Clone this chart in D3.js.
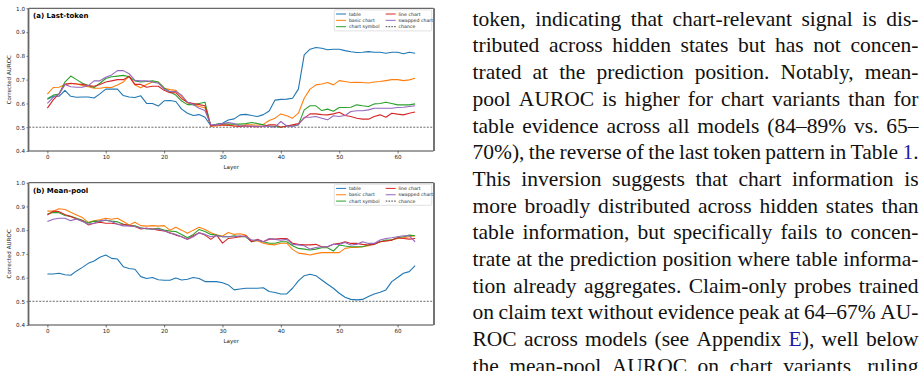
<!DOCTYPE html>
<html>
<head>
<meta charset="utf-8">
<script src="https://cdn.jsdelivr.net/npm/d3@7/dist/d3.min.js"></script>
<style>
	body { margin: 0; background: #fff; }
	svg { display: block; }
</style>
</head>
<body>
<svg id="page" width="919" height="371"></svg>
<script>

var layers = d3.range(64);

var seriesNames = ['table', 'basic chart', 'chart symbol', 'line chart', 'swapped chart'];
var seriesColors = ['#1f77b4', '#ff7f0e', '#2ca02c', '#d62728', '#9467bd'];

var xTicks = [0, 10, 20, 30, 40, 50, 60];
var yTicks = [0.4, 0.5, 0.6, 0.7, 0.8, 0.9, 1.0];
var chanceLevel = 0.5;

// (a) last-token AUROC per layer
var lastTable = [0.618, 0.63, 0.63, 0.655, 0.63, 0.626, 0.627, 0.627, 0.623, 0.64,
	0.66, 0.66, 0.66, 0.633, 0.627, 0.625, 0.632, 0.60, 0.60, 0.589,
	0.611, 0.612, 0.608, 0.576, 0.559, 0.549, 0.553, 0.542, 0.506, 0.512,
	0.517, 0.53, 0.535, 0.552, 0.554, 0.549, 0.545, 0.553, 0.568, 0.614,
	0.617, 0.618, 0.622, 0.66, 0.804, 0.828, 0.835, 0.832, 0.826, 0.828,
	0.828, 0.822, 0.817, 0.814, 0.815, 0.818, 0.815, 0.815, 0.811, 0.815,
	0.815, 0.809, 0.815, 0.811];
var lastBasic = [0.639, 0.667, 0.668, 0.68, 0.684, 0.683, 0.675, 0.67, 0.664, 0.664,
	0.668, 0.667, 0.678, 0.69, 0.716, 0.678, 0.666, 0.68, 0.69, 0.69,
	0.664, 0.658, 0.655, 0.63, 0.602, 0.595, 0.587, 0.582, 0.504, 0.505,
	0.508, 0.51, 0.505, 0.505, 0.51, 0.51, 0.508, 0.512, 0.528, 0.538,
	0.556, 0.548, 0.538, 0.559, 0.622, 0.66, 0.678, 0.682, 0.688, 0.678,
	0.696, 0.692, 0.688, 0.689, 0.688, 0.686, 0.69, 0.692, 0.696, 0.70,
	0.70, 0.696, 0.699, 0.706];
var lastSymbol = [0.62, 0.635, 0.64, 0.69, 0.715, 0.70, 0.685, 0.675, 0.667, 0.685,
	0.705, 0.712, 0.715, 0.718, 0.712, 0.695, 0.69, 0.692, 0.695, 0.69,
	0.665, 0.648, 0.635, 0.61, 0.595, 0.595, 0.60, 0.605, 0.505, 0.512,
	0.515, 0.513, 0.513, 0.513, 0.515, 0.52, 0.515, 0.51, 0.505, 0.503,
	0.50, 0.505, 0.505, 0.51, 0.573, 0.59, 0.59, 0.57, 0.576, 0.567,
	0.583, 0.583, 0.584, 0.594, 0.59, 0.587, 0.598, 0.60, 0.605, 0.60,
	0.594, 0.594, 0.594, 0.598];
var lastLine = [0.58, 0.615, 0.64, 0.68, 0.685, 0.682, 0.68, 0.675, 0.672, 0.68,
	0.69, 0.695, 0.70, 0.70, 0.713, 0.68, 0.68, 0.668, 0.672, 0.672,
	0.655, 0.645, 0.645, 0.62, 0.605, 0.60, 0.595, 0.59, 0.505, 0.51,
	0.51, 0.508, 0.505, 0.503, 0.505, 0.503, 0.502, 0.503, 0.51, 0.51,
	0.50, 0.505, 0.51, 0.515, 0.538, 0.556, 0.556, 0.553, 0.552, 0.556,
	0.563, 0.549, 0.545, 0.538, 0.534, 0.534, 0.545, 0.552, 0.542, 0.559,
	0.555, 0.552, 0.559, 0.564];
var lastSwapped = [0.60, 0.625, 0.64, 0.68, 0.67, 0.668, 0.668, 0.675, 0.695, 0.695,
	0.71, 0.72, 0.738, 0.738, 0.725, 0.697, 0.695, 0.695, 0.69, 0.685,
	0.66, 0.65, 0.65, 0.635, 0.605, 0.595, 0.58, 0.57, 0.51, 0.51,
	0.515, 0.52, 0.515, 0.505, 0.505, 0.505, 0.503, 0.505, 0.503, 0.50,
	0.524, 0.505, 0.503, 0.51, 0.542, 0.542, 0.545, 0.538, 0.531, 0.548,
	0.545, 0.549, 0.566, 0.569, 0.569, 0.573, 0.58, 0.58, 0.58, 0.58,
	0.583, 0.584, 0.587, 0.59];

// (b) mean-pool AUROC per layer
var poolTable = [0.615, 0.615, 0.618, 0.612, 0.61, 0.628, 0.643, 0.66, 0.67, 0.686,
	0.695, 0.681, 0.678, 0.646, 0.638, 0.635, 0.604, 0.596, 0.60, 0.591,
	0.589, 0.589, 0.598, 0.59, 0.593, 0.60, 0.596, 0.583, 0.583, 0.583,
	0.578, 0.569, 0.548, 0.552, 0.555, 0.555, 0.555, 0.557, 0.541, 0.537,
	0.531, 0.531, 0.555, 0.586, 0.608, 0.614, 0.608, 0.59, 0.572, 0.555,
	0.534, 0.517, 0.508, 0.506, 0.508, 0.52, 0.531, 0.538, 0.548, 0.583,
	0.60, 0.618, 0.625, 0.65];
var poolBasic = [0.88, 0.88, 0.89, 0.887, 0.875, 0.864, 0.853, 0.833, 0.839, 0.844,
	0.85, 0.846, 0.85, 0.836, 0.822, 0.833, 0.819, 0.817, 0.819, 0.817,
	0.819, 0.80, 0.812, 0.80, 0.787, 0.80, 0.812, 0.803, 0.789, 0.779,
	0.775, 0.79, 0.782, 0.785, 0.779, 0.754, 0.755, 0.745, 0.74, 0.738,
	0.745, 0.745, 0.719, 0.703, 0.70, 0.695, 0.701, 0.705, 0.705, 0.705,
	0.705, 0.723, 0.727, 0.727, 0.73, 0.734, 0.744, 0.751, 0.754, 0.758,
	0.765, 0.768, 0.772, 0.776];
var poolSymbol = [0.868, 0.875, 0.873, 0.862, 0.858, 0.85, 0.842, 0.83, 0.838, 0.837,
	0.842, 0.838, 0.835, 0.825, 0.82, 0.818, 0.81, 0.805, 0.805, 0.808,
	0.80, 0.796, 0.794, 0.782, 0.768, 0.782, 0.803, 0.794, 0.782, 0.779,
	0.772, 0.772, 0.776, 0.772, 0.772, 0.751, 0.758, 0.751, 0.745, 0.745,
	0.751, 0.751, 0.734, 0.723, 0.72, 0.716, 0.72, 0.726, 0.726, 0.712,
	0.737, 0.733, 0.73, 0.73, 0.73, 0.737, 0.74, 0.751, 0.758, 0.758,
	0.768, 0.772, 0.779, 0.776];
var poolLine = [0.864, 0.88, 0.878, 0.866, 0.857, 0.847, 0.839, 0.822, 0.829, 0.833,
	0.829, 0.829, 0.826, 0.825, 0.819, 0.815, 0.805, 0.808, 0.805, 0.80,
	0.797, 0.789, 0.779, 0.772, 0.762, 0.776, 0.789, 0.779, 0.761, 0.779,
	0.745, 0.765, 0.768, 0.772, 0.776, 0.751, 0.761, 0.751, 0.762, 0.762,
	0.765, 0.765, 0.745, 0.74, 0.738, 0.738, 0.74, 0.73, 0.73, 0.74,
	0.744, 0.751, 0.744, 0.744, 0.74, 0.737, 0.74, 0.751, 0.754, 0.758,
	0.768, 0.765, 0.762, 0.765];
var poolSwapped = [0.836, 0.846, 0.85, 0.85, 0.84, 0.847, 0.836, 0.826, 0.829, 0.839,
	0.843, 0.836, 0.825, 0.818, 0.818, 0.815, 0.808, 0.808, 0.804, 0.804,
	0.797, 0.787, 0.782, 0.772, 0.761, 0.772, 0.789, 0.782, 0.772, 0.776,
	0.772, 0.772, 0.772, 0.776, 0.772, 0.758, 0.758, 0.751, 0.765, 0.761,
	0.758, 0.761, 0.74, 0.738, 0.734, 0.72, 0.727, 0.73, 0.73, 0.74,
	0.74, 0.748, 0.737, 0.74, 0.751, 0.744, 0.744, 0.758, 0.765, 0.768,
	0.772, 0.776, 0.776, 0.751];

// body text beside the figure, {..} marks a link
var paragraphLines = [
	'token, indicating that chart-relevant signal is dis-',
	'tributed across hidden states but has not concen-',
	'trated at the prediction position. Notably, mean-',
	'pool AUROC is higher for chart variants than for',
	'table evidence across all models (84–89% vs. 65–',
	'70%), the reverse of the last token pattern in Table {1}.',
	'This inversion suggests that chart information is',
	'more broadly distributed across hidden states than',
	'table information, but specifically fails to concen-',
	'trate at the prediction position where table informa-',
	'tion already aggregates. Claim-only probes trained',
	'on claim text without evidence peak at 64–67% AU-',
	'ROC across models (see Appendix {E}), well below',
	'the mean-pool AUROC on chart variants, ruling'
];

var svg = d3.select('#page');
svg.append('rect').attr('width', 919).attr('height', 371).attr('fill', '#fff');

var plotFont = 'DejaVu Sans, sans-serif';

/**
 * Draws one panel of the figure
 */
var drawPanel = function(top, bottom, title, data) {

	var x = d3.scaleLinear().domain([-3.15, 66.15]).range([29, 433.5]);
	var y = d3.scaleLinear().domain([0.4, 1.0]).range([bottom, top]);
	var g = svg.append('g');

	// chance line
	g.append('line')
		.attr('x1', x.range()[0]).attr('x2', x.range()[1])
		.attr('y1', y(chanceLevel)).attr('y2', y(chanceLevel))
		.attr('stroke', '#444').attr('stroke-width', 0.8)
		.attr('stroke-dasharray', '2,1.4');

	var line = d3.line()
		.x(function(d, i) { return x(layers[i]); })
		.y(function(d) { return y(d); });

	data.forEach(function(vals, i) {
		g.append('path')
			.datum(vals)
			.attr('fill', 'none')
			.attr('stroke', seriesColors[i])
			.attr('stroke-width', 1.1)
			.attr('stroke-linejoin', 'round')
			.attr('d', line);
	});

	// axes
	var xAxis = g.append('g')
		.attr('transform', 'translate(0,' + bottom + ')')
		.call(d3.axisBottom(x).tickValues(xTicks).tickSize(2.5).tickPadding(1.5));
	var yAxis = g.append('g')
		.attr('transform', 'translate(29,0)')
		.call(d3.axisLeft(y).tickValues(yTicks).tickSize(2.5).tickPadding(1.5).tickFormat(d3.format('.1f')));

	[xAxis, yAxis].forEach(function(a) {
		a.select('.domain').remove();
		a.selectAll('line').attr('stroke', '#222').attr('stroke-width', 0.6);
		a.selectAll('text').attr('font-family', plotFont).attr('font-size', 5.6).attr('fill', '#222');
	});

	// spines
	g.append('line').attr('x1', 29).attr('x2', 433.5).attr('y1', top).attr('y2', top).attr('stroke', '#111').attr('stroke-width', 0.8);
	g.append('line').attr('x1', 29).attr('x2', 433.5).attr('y1', bottom).attr('y2', bottom).attr('stroke', '#111').attr('stroke-width', 0.8);
	g.append('line').attr('x1', 28.5).attr('x2', 28.5).attr('y1', top).attr('y2', bottom).attr('stroke', '#666').attr('stroke-width', 1.8);
	g.append('line').attr('x1', 434).attr('x2', 434).attr('y1', top).attr('y2', bottom).attr('stroke', '#666').attr('stroke-width', 1.8);

	// labels
	g.append('text')
		.attr('x', 33).attr('y', top + 10)
		.attr('font-family', plotFont).attr('font-size', 7).attr('font-weight', 'bold')
		.text(title);

	g.append('text')
		.attr('x', 231.2).attr('y', bottom + 17.5)
		.attr('text-anchor', 'middle')
		.attr('font-family', plotFont).attr('font-size', 5.6).attr('fill', '#222')
		.text('Layer');

	g.append('text')
		.attr('transform', 'translate(10.5,' + (top + bottom) / 2 + ') rotate(-90)')
		.attr('text-anchor', 'middle')
		.attr('font-family', plotFont).attr('font-size', 5.6).attr('fill', '#222')
		.text('Corrected AUROC');

	// legend
	var lg = g.append('g').attr('transform', 'translate(334.3,' + (top + 1.6) + ')');
	lg.append('rect')
		.attr('width', 97.4).attr('height', 21).attr('rx', 1)
		.attr('fill', '#fff').attr('fill-opacity', 0.85)
		.attr('stroke', '#ccc').attr('stroke-width', 0.6);

	var entries = seriesNames.map(function(n, i) { return {name: n, color: seriesColors[i], dash: null}; });
	entries.push({name: 'chance', color: '#444', dash: '1.6,1.2'});

	entries.forEach(function(e, i) {
		var col = Math.floor(i / 3);
		var row = i % 3;
		var ex = 1.8 + col * 49.6;
		var ey = 4.1 + row * 6.35;
		lg.append('line')
			.attr('x1', ex).attr('x2', ex + 10)
			.attr('y1', ey).attr('y2', ey)
			.attr('stroke', e.color).attr('stroke-width', 1)
			.attr('stroke-dasharray', e.dash);
		lg.append('text')
			.attr('x', ex + 12.8).attr('y', ey + 1.6)
			.attr('font-family', plotFont).attr('font-size', 4.7).attr('fill', '#222')
			.text(e.name);
	});
};

drawPanel(8.3, 151, '(a) Last-token', [lastTable, lastBasic, lastSymbol, lastLine, lastSwapped]);
drawPanel(182.7, 325, '(b) Mean-pool', [poolTable, poolBasic, poolSymbol, poolLine, poolSwapped]);

/**
 * Justified body text on the right
 */
var textLeft = 472.5;
var textRight = 918.5;
var firstBaseline = 25.8;
var lineGap = 26.68;
var linkBlue = '#1c1ca8';

paragraphLines.forEach(function(line, i) {

	var words = line.split(' ');

	var nodes = words.map(function(w) {
		var t = svg.append('text')
			.attr('y', firstBaseline + i * lineGap)
			.attr('font-family', 'Liberation Serif, Times New Roman, serif')
			.attr('font-size', 21.5)
			.attr('fill', '#111');
		w.split(/(\{[^}]*\})/).filter(Boolean).forEach(function(p) {
			if (p[0] === '{') t.append('tspan').attr('fill', linkBlue).text(p.slice(1, -1));
			else t.append('tspan').text(p);
		});
		return t;
	});

	var widths = nodes.map(function(n) { return n.node().getComputedTextLength(); });
	var gap = (textRight - textLeft - d3.sum(widths)) / (nodes.length - 1);
	var cx = textLeft;

	nodes.forEach(function(n, j) {
		n.attr('x', cx);
		cx += widths[j] + gap;
	});
});

</script>
</body>
</html>
